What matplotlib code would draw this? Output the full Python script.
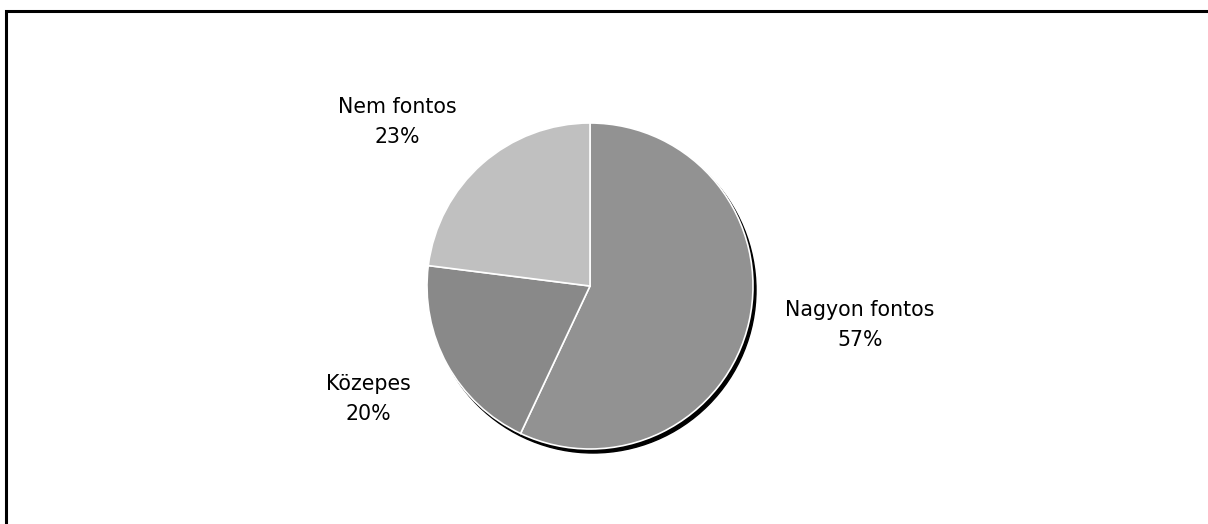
import matplotlib.pyplot as plt
from matplotlib.patches import Circle, Rectangle

# slice data, clockwise from 12 o'clock
labels = ["Nagyon fontos", "Közepes", "Nem fontos"]
shares = [57, 20, 23]
slice_colors = ["#929292", "#898989", "#c0c0c0"]

W, H = 1208, 524
fig = plt.figure(figsize=(W / 100, H / 100), dpi=100)
ax = fig.add_axes([0, 0, 1, 1])

cx, cy, r = 590, H - 286, 163

# drop shadow
ax.add_patch(Circle((cx + 3, cy - 4), r, color="black", zorder=1))

wedges, _ = ax.pie(
    shares,
    colors=slice_colors,
    startangle=90,
    counterclock=False,
    center=(cx, cy),
    radius=r,
    wedgeprops=dict(edgecolor="white", linewidth=1.2, zorder=2),
    frame=True,
)
ax.set_xlim(0, W)
ax.set_ylim(0, H)
ax.set_aspect("equal")
ax.axis("off")

label_pos = [(860, H - 325), (368, H - 399), (397, H - 122)]
for name, val, (x, y) in zip(labels, shares, label_pos):
    ax.text(x, y, f"{name}\n{val}%", ha="center", va="center",
            fontsize=14.8, family="DejaVu Sans", linespacing=1.6, zorder=3)

# outer frame (only top and left edges fall inside the image)
fig.patches.append(Rectangle((6 / W, -0.05), 1.1, 1 - 11 / H + 0.05,
                             transform=fig.transFigure, fill=False,
                             edgecolor="black", linewidth=2.2))

fig.savefig("out.png", dpi=100)
